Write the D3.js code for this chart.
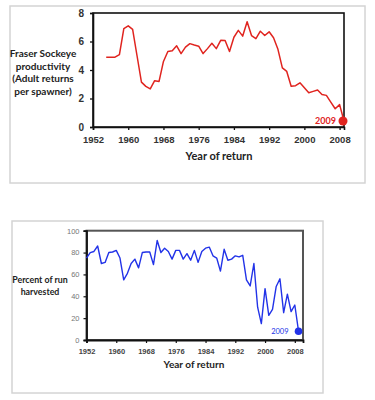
<!DOCTYPE html>
<html>
<head>
<meta charset="utf-8">
<script src="https://cdn.jsdelivr.net/npm/d3@7"></script>
<style>
  body { margin: 0; background: #fff; }
  svg { display: block; font-family: Lato, "Open Sans", sans-serif; }
</style>
</head>
<body>
<div class="charts"></div>
<script>
  // productivity (returns per spawner), 1955-2009
  const prodYears = d3.range(1955, 2010);
  const prodValues = [4.9, 4.9, 4.9, 5.08, 6.9, 7.1, 6.85, 5.0, 3.15, 2.85,
    2.67, 3.25, 3.2, 4.6, 5.3, 5.35, 5.7, 5.15, 5.6, 5.85,
    5.75, 5.67, 5.15, 5.5, 5.87, 5.5, 6.08, 6.07, 5.3, 6.3,
    6.78, 6.38, 7.38, 6.42, 6.2, 6.72, 6.42, 6.68, 6.26, 5.45,
    4.15, 3.9, 2.86, 2.9, 3.1, 2.75, 2.4, 2.5, 2.6, 2.28,
    2.22, 1.75, 1.28, 1.57, 0.42];

  // percent of run harvested, 1952-2009
  const harvYears = d3.range(1952, 2010);
  const harvValues = [75, 80, 81, 86, 70, 71, 80, 80.5, 82, 75,
    55, 61, 70, 74, 66, 80, 80.5, 80.5, 69, 91,
    80, 84, 81, 74, 82, 82, 74, 79, 73, 82,
    71, 81, 84, 85, 77, 75, 63, 83, 73, 74,
    77, 76, 77.5, 55, 49.5, 70, 30, 15, 47, 22.5,
    28, 49, 56, 25, 42, 26, 32, 8];

  const yearTicks = [1952, 1960, 1968, 1976, 1984, 1992, 2000, 2008];
  const prodTicks = [0, 2, 4, 6, 8];
  const harvTicks = [0, 20, 40, 60, 80, 100];

  const svg = d3.select(".charts").append("svg")
    .attr("width", 375)
    .attr("height", 400);

  // ---------- top chart ----------
  svg.append("rect")
    .attr("x", 10).attr("y", 6).attr("width", 355).attr("height", 177)
    .attr("fill", "#fff").attr("stroke", "#d4d4d4").attr("stroke-width", 1.5);

  const x1 = d3.scaleLinear().domain([1952, 2009]).range([93, 344]);
  const y1 = d3.scaleLinear().domain([0, 8]).range([127, 13]);

  const prodChart = svg.append("g");

  prodChart.append("rect")
    .attr("x", x1(1952)).attr("y", y1(8))
    .attr("width", x1(2009) - x1(1952)).attr("height", y1(0) - y1(8))
    .attr("fill", "none").attr("stroke", "#111").attr("stroke-width", 1.6);

  prodChart.append("g")
    .attr("transform", "translate(0," + y1(0) + ")")
    .call(d3.axisBottom(x1).tickValues(yearTicks).tickFormat(d3.format("d")).tickSize(3).tickPadding(6))
    .call(g => g.select(".domain").attr("stroke", "#111").attr("stroke-width", 1.6))
    .call(g => g.selectAll(".tick line").attr("stroke", "#111").attr("stroke-width", 1.3))
    .call(g => g.selectAll("text").attr("font-size", 9.5).attr("font-weight", "bold").attr("fill", "#333"));

  prodChart.append("g")
    .attr("transform", "translate(" + x1(1952) + ",0)")
    .call(d3.axisLeft(y1).tickValues(prodTicks).tickSize(3).tickPadding(6))
    .call(g => g.select(".domain").attr("stroke", "#111").attr("stroke-width", 1.6))
    .call(g => g.selectAll(".tick line").attr("stroke", "#111").attr("stroke-width", 1.3))
    .call(g => g.selectAll("text").attr("font-size", 10).attr("font-weight", "bold").attr("fill", "#333"));

  const line1 = d3.line()
    .x((d, i) => x1(prodYears[i]))
    .y(d => y1(d));

  prodChart.append("path")
    .datum(prodValues)
    .attr("d", line1)
    .attr("fill", "none")
    .attr("stroke", "#e0241f")
    .attr("stroke-width", 1.5)
    .attr("stroke-linejoin", "round");

  prodChart.append("circle")
    .attr("cx", x1(2009) - 1).attr("cy", y1(prodValues[prodValues.length - 1]))
    .attr("r", 4.5).attr("fill", "#e0241f");

  prodChart.append("text")
    .attr("x", x1(2009) - 8).attr("y", y1(prodValues[prodValues.length - 1]) + 3)
    .attr("text-anchor", "end").attr("font-size", 9).attr("font-weight", "bold")
    .attr("fill", "#e0241f").text("2009");

  prodChart.append("text")
    .attr("text-anchor", "middle")
    .attr("font-size", 10).attr("font-weight", "bold").attr("fill", "#222")
    .selectAll("tspan")
    .data(["Fraser Sockeye", "productivity", "(Adult returns", "per spawner)"])
    .join("tspan")
      .attr("x", 43)
      .attr("y", (d, i) => 57 + i * 12.7)
      .text(d => d);

  prodChart.append("text")
    .attr("x", 219).attr("y", 160)
    .attr("text-anchor", "middle")
    .attr("font-size", 11).attr("font-weight", "bold").attr("fill", "#222")
    .text("Year of return");

  // ---------- bottom chart ----------
  svg.append("rect")
    .attr("x", 12).attr("y", 221).attr("width", 311).attr("height", 172)
    .attr("fill", "#fff").attr("stroke", "#d4d4d4").attr("stroke-width", 1.5);

  const x2 = d3.scaleLinear().domain([1952, 2010.2]).range([86.5, 303]);
  const y2 = d3.scaleLinear().domain([0, 100]).range([340, 230.7]);

  const harvChart = svg.append("g");

  harvChart.append("rect")
    .attr("x", x2(1952)).attr("y", y2(100))
    .attr("width", x2(2010.2) - x2(1952)).attr("height", y2(0) - y2(100))
    .attr("fill", "none").attr("stroke", "#555").attr("stroke-width", 2);

  harvChart.append("g")
    .attr("transform", "translate(0," + y2(0) + ")")
    .call(d3.axisBottom(x2).tickValues(yearTicks).tickFormat(d3.format("d")).tickSize(3).tickPadding(6))
    .call(g => g.select(".domain").attr("stroke", "#111").attr("stroke-width", 1.8))
    .call(g => g.selectAll(".tick line").attr("stroke", "#111").attr("stroke-width", 1.2))
    .call(g => g.selectAll("text").attr("font-size", 7.5).attr("font-weight", "bold").attr("fill", "#444"));

  harvChart.append("g")
    .attr("transform", "translate(" + x2(1952) + ",0)")
    .call(d3.axisLeft(y2).tickValues(harvTicks).tickSize(3).tickPadding(4))
    .call(g => g.select(".domain").attr("stroke", "#111").attr("stroke-width", 1.8))
    .call(g => g.selectAll(".tick line").attr("stroke", "#111").attr("stroke-width", 1.2))
    .call(g => g.selectAll("text").attr("font-size", 7.5).attr("fill", "#777"));

  const line2 = d3.line()
    .x((d, i) => x2(harvYears[i]))
    .y(d => y2(d));

  harvChart.append("path")
    .datum(harvValues)
    .attr("d", line2)
    .attr("fill", "none")
    .attr("stroke", "#2233e8")
    .attr("stroke-width", 1.4)
    .attr("stroke-linejoin", "round");

  harvChart.append("circle")
    .attr("cx", x2(2009)).attr("cy", y2(harvValues[harvValues.length - 1]))
    .attr("r", 3.8).attr("fill", "#2233e8");

  harvChart.append("text")
    .attr("x", x2(2009) - 10).attr("y", y2(harvValues[harvValues.length - 1]) + 3)
    .attr("text-anchor", "end").attr("font-size", 7.5)
    .attr("fill", "#2233e8").text("2009");

  harvChart.append("text")
    .attr("text-anchor", "middle")
    .attr("font-size", 8.8).attr("font-weight", "bold").attr("fill", "#222")
    .selectAll("tspan")
    .data(["Percent of run", "harvested"])
    .join("tspan")
      .attr("x", 40)
      .attr("y", (d, i) => 283 + i * 11.5)
      .text(d => d);

  harvChart.append("text")
    .attr("x", 194).attr("y", 368)
    .attr("text-anchor", "middle")
    .attr("font-size", 10).attr("font-weight", "bold").attr("fill", "#222")
    .text("Year of return");
</script>
</body>
</html>
